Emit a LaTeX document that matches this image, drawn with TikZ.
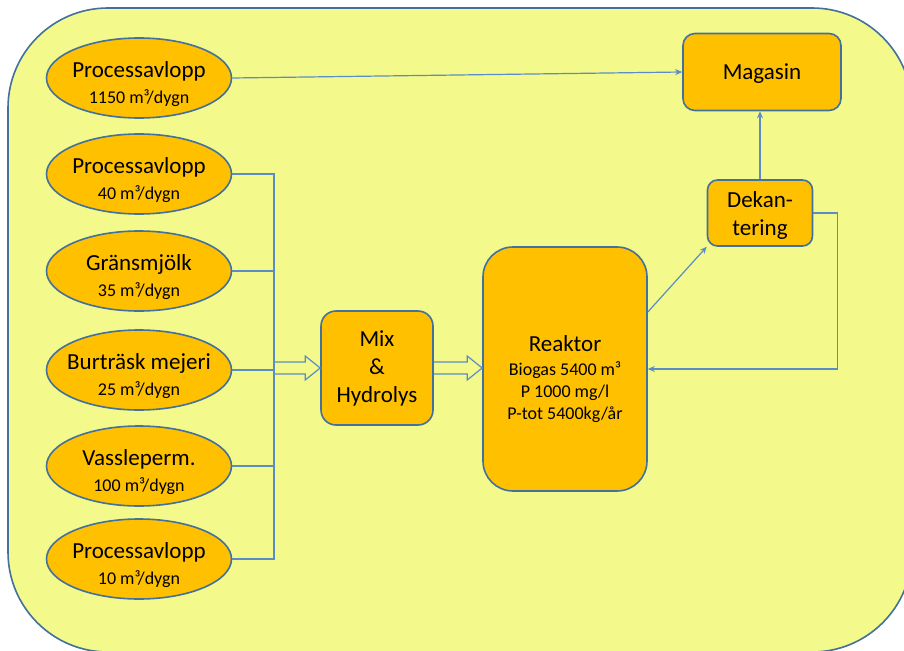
\documentclass[tikz,border=0pt]{standalone}
\usepackage{fontspec}
\setmainfont{Carlito}
\usetikzlibrary{shapes.geometric,calc,arrows.meta}
\definecolor{bgyellow}{HTML}{F3F98B}
\definecolor{boxorange}{HTML}{FFC000}
\definecolor{outline}{HTML}{41719C}
\definecolor{connblue}{HTML}{5B8CC8}
\tikzset{
  src/.style={ellipse, draw=outline, line width=1.6pt, fill=boxorange, minimum width=185pt, minimum height=80pt, inner sep=0pt},
  procbox/.style={rectangle, draw=outline, line width=1.6pt, fill=boxorange, inner sep=0pt, align=center, font=\fontsize{23}{28}\selectfont},
  txt/.style={align=center, inner sep=0pt, font=\fontsize{23}{25}\selectfont},
  conn/.style={draw=connblue, line width=1.2pt},
  arr/.style={conn, -{Stealth[length=7pt,width=6pt]}},
  hollow/.style={draw=connblue, line width=1.2pt, line join=miter}
}
\newcommand{\subl}[1]{{\fontsize{18}{22}\selectfont #1}}
\newcommand{\srcnode}[4]{%
  \node[src] (#1) at (#2) {};
  \node[txt] (#1t) at ($(#1.center)+(0,6)$) {#3\\[1pt]\subl{#4}};}
\begin{document}
\begin{tikzpicture}[x=1pt,y=-1pt]
\useasboundingbox (0,0) rectangle (904,650);
\clip (0,0) rectangle (904,650);
\fill[white] (0,0) rectangle (904,650);
\draw[outline, fill=bgyellow, line width=1.6pt, rounded corners=100pt] (8,8) rectangle (912,652);

% sources
\srcnode{e1}{139,78}{Processavlopp}{1150 m³/dygn}
\srcnode{e2}{139,174}{Processavlopp}{40 m³/dygn}
\srcnode{e3}{139,271}{Gränsmjölk}{35 m³/dygn}
\srcnode{e4}{139,370}{Burträsk mejeri}{25 m³/dygn}
\srcnode{e5}{139,466}{Vassleperm.}{100 m³/dygn}
\srcnode{e6}{139,559}{Processavlopp}{10 m³/dygn}

% process boxes
\node[procbox, rounded corners=15pt, minimum width=112pt, minimum height=114pt] (mix) at (377,368) {Mix\\\&\\Hydrolys};
\node[procbox, rounded corners=30pt, minimum width=164pt, minimum height=244pt] (reak) at (565,369) {};
\node[txt] (reaktxt) at ($(reak.center)+(0,10)$)
  {Reaktor\\[-1pt]\subl{Biogas 5400 m³}\\[-3pt]\subl{P 1000 mg/l}\\[-3pt]\subl{P-tot 5400kg/år}};
\node[procbox, rounded corners=12pt, minimum width=158pt, minimum height=77pt] (mag) at (762,72) {};
\node[txt] (magtxt) at ($(mag.center)+(0,2)$) {Magasin};
\node[procbox, rounded corners=10pt, minimum width=105pt, minimum height=66pt] (dek) at (760,213) {};
\node[txt, font=\fontsize{23}{28}\selectfont] (dektxt) at ($(dek.center)+(0,2)$) {Dekan-\\tering};

% collector bus
\coordinate (bus) at (274,368);
\draw[conn] (e2.east) -| (bus);
\draw[conn] (e6.east) -| (bus);
\draw[conn] (e3.east) -- (e3.east -| bus);
\draw[conn] (e4.east) -- (e4.east -| bus);
\draw[conn] (e5.east) -- (e5.east -| bus);

% hollow arrows
\draw[hollow] ($(bus)+(0,-6)$) -- ($(mix.west)+(-15,-6)$) -- ($(mix.west)+(-15,-12)$) -- (mix.west)
  -- ($(mix.west)+(-15,12)$) -- ($(mix.west)+(-15,6)$) -- ($(bus)+(0,6)$);
\coordinate (rin) at (mix.east -| reak.west);
\draw[hollow] ($(mix.east)+(0,-6)$) -- ($(rin)+(-15,-6)$) -- ($(rin)+(-15,-12)$) -- (rin)
  -- ($(rin)+(-15,12)$) -- ($(rin)+(-15,6)$) -- ($(mix.east)+(0,6)$);

% other connectors
\draw[arr] (e1.east) -- (mag.west);
\draw[arr] ($(reak.east)+(0,-57)$) -- (dek.south west);
\draw[arr] (dek.north) -- (dek.north |- mag.south);
\draw[arr] (dek.east) -- ++(24,0) |- (reak.east);
\end{tikzpicture}
\end{document}
